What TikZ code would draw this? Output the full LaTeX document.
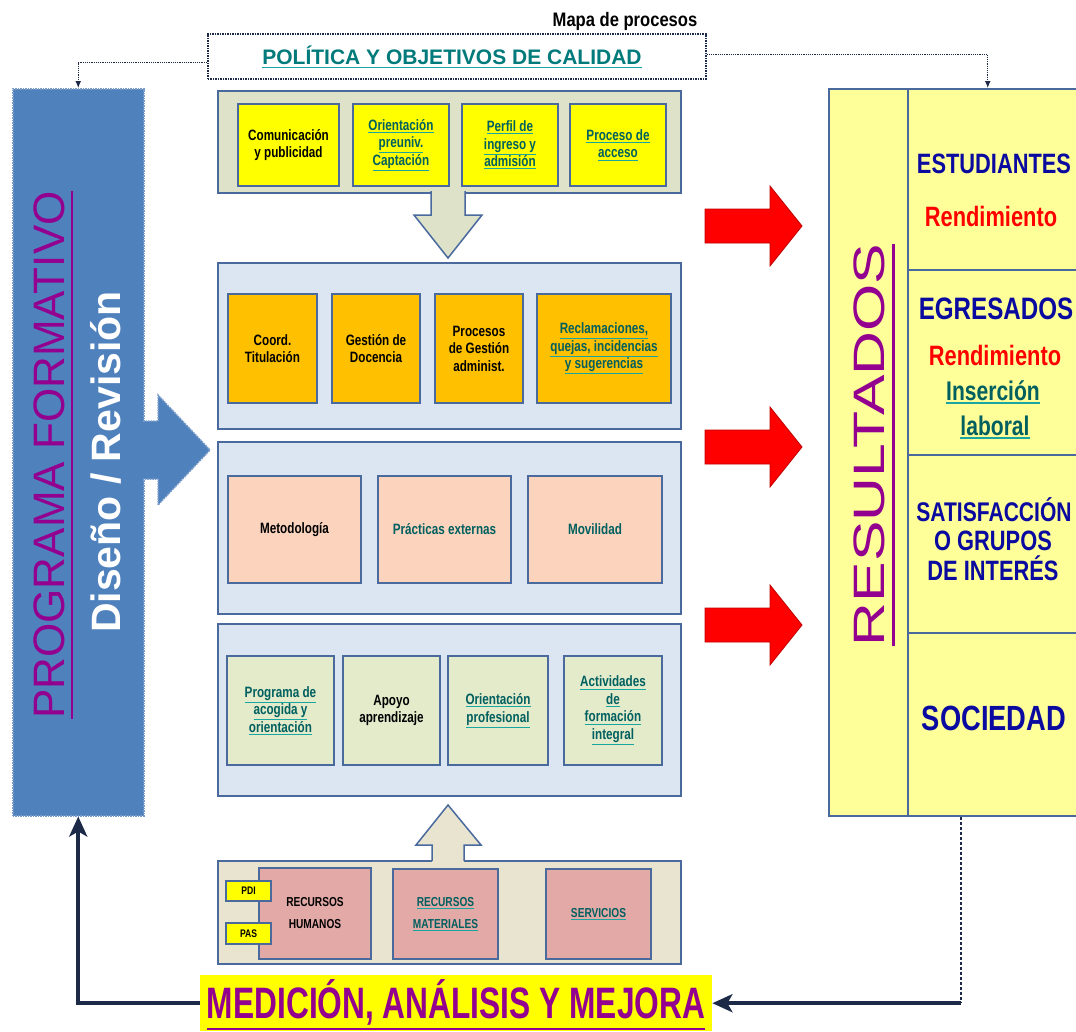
\documentclass[tikz,border=0pt]{standalone}
\usepackage{fontspec}
\setmainfont{Liberation Sans}
\newfontfamily\nar[FakeStretch=0.78]{Liberation Sans}
\newfontfamily\medf[FakeStretch=0.72]{Liberation Sans}
\newfontfamily\ttlf[FakeStretch=0.85]{Liberation Sans}
\usetikzlibrary{arrows.meta}
\definecolor{progblue}{HTML}{4F81BD}
\definecolor{progedge}{HTML}{7A9CCB}
\definecolor{grpb}{HTML}{4A6A9E}
\definecolor{g1fill}{HTML}{DDE2C9}
\definecolor{lblue}{HTML}{DCE6F2}
\definecolor{bfill}{HTML}{E9E4CF}
\definecolor{yel}{HTML}{FFFF00}
\definecolor{orng}{HTML}{FFC000}
\definecolor{peach}{HTML}{FCD3BD}
\definecolor{lgreen}{HTML}{E3EBCB}
\definecolor{pinkb}{HTML}{E2A9A6}
\definecolor{resy}{HTML}{FFFF99}
\definecolor{purp}{HTML}{93008F}
\definecolor{blu}{HTML}{0A0AA0}
\definecolor{lkteal}{HTML}{005F5F}
\definecolor{ulteal}{HTML}{1AA6A0}
\definecolor{polteal}{HTML}{007A7A}
\definecolor{navy}{HTML}{1C2A48}
\definecolor{redarr}{HTML}{FF0000}
\newcommand\myul[4]{\setbox0\hbox{#4}\vtop{\copy0\nointerlineskip\kern#3\hbox{\textcolor{#1}{\rule{\wd0}{#2}}}}}
\newcommand\lk[1]{\myul{ulteal}{0.8pt}{1.5pt}{\textcolor{lkteal}{#1}}}
\begin{document}
\begin{tikzpicture}[x=1pt,y=-1pt,
  grp/.style={draw=grpb,line width=1.6pt,anchor=north west,inner sep=0pt},
  ibox/.style={draw=grpb,line width=2pt,anchor=north west,inner sep=2pt,align=center,font={\nar\bfseries\fontsize{15}{17.5}\selectfont}},
  thinconn/.style={draw=navy,line width=1.2pt,densely dotted,-{Latex[length=7pt,width=6pt]}},
  thickconn/.style={draw=navy,line width=4pt,-{Stealth[length=20pt,width=18pt,inset=5pt]}},
  rtxt/.style={anchor=base,inner sep=0pt},
  blockarrow/.style={draw=grpb,line width=1.5pt,line join=miter}
]
\useasboundingbox (0,0) rectangle (1076,1031);
\clip (0,0) rectangle (1076,1031);
\fill[white] (0,0) rectangle (1076,1031);

% title
\node[rtxt,font={\ttlf\bfseries\fontsize{19.5}{20}\selectfont}] (title) at (625,26) {Mapa de procesos};

% policy box
\node[draw=navy,line width=1.5pt,densely dotted,fill=white,anchor=north west,minimum width=498,minimum height=45,inner sep=0pt] (pol) at (207,33) {};
\node[rtxt,text=polteal,font={\bfseries\fontsize{21}{21}\selectfont}] (poltxt) at (452,64) {\myul{ulteal}{1.5pt}{2.5pt}{POLÍTICA Y OBJETIVOS DE CALIDAD}};

% programa formativo
\node[draw=progedge,fill=progblue,line width=1.5pt,densely dotted,anchor=north west,minimum width=131,minimum height=727,inner sep=0pt] (prog) at (12,88) {};
\fill[progblue] (140,421) -- (158,421) -- (158,395) -- (210,450) -- (158,505) -- (158,479) -- (140,479) -- cycle;
\draw[progedge,line width=1.5pt,densely dotted] (143,421) -- (158,421) -- (158,395) -- (210,450) -- (158,505) -- (158,479) -- (143,479);
\node[rtxt,rotate=90,text=purp,font={\fontsize{44}{44}\selectfont}] (pftxt) at (64,455) {\myul{purp}{2pt}{7pt}{PROGRAMA FORMATIVO}};
\node[rtxt,rotate=90,text=white,font={\bfseries\fontsize{41}{41}\selectfont}] (dstxt) at (120,462) {Diseño / Revisión};

% group 1
\node[grp,fill=g1fill,minimum width=463,minimum height=102] (g1) at (217,90) {};
\fill[g1fill] (431,188) -- (431,215) -- (414,215) -- (448,258) -- (482,215) -- (465,215) -- (465,188) -- cycle;
\draw[blockarrow] (431,191) -- (431,215) -- (414,215) -- (448,258) -- (482,215) -- (465,215) -- (465,191);
\node[ibox,fill=yel,minimum width=101,minimum height=82] (y1) at (237,103) {Comunicación\\y publicidad};
\node[ibox,fill=yel,minimum width=96,minimum height=82] (y2) at (352,103) {\lk{Orientación}\\\lk{preuniv.}\\\lk{Captación}};
\node[ibox,fill=yel,minimum width=96,minimum height=82] (y3) at (461,103) {\lk{Perfil de}\\\lk{ingreso y}\\\lk{admisión}};
\node[ibox,fill=yel,minimum width=96,minimum height=82] (y4) at (569,103) {\lk{Proceso de}\\\lk{acceso}};

% group 2
\node[grp,fill=lblue,minimum width=463,minimum height=166] (g2) at (217,262) {};
\node[ibox,fill=orng,minimum width=89,minimum height=109] (o1) at (227,293) {Coord.\\Titulación};
\node[ibox,fill=orng,minimum width=88,minimum height=109] (o2) at (331,293) {Gestión de\\Docencia};
\node[ibox,fill=orng,minimum width=88,minimum height=109] (o3) at (434,293) {Procesos\\de Gestión\\administ.};
\node[ibox,fill=orng,minimum width=134,minimum height=109] (o4) at (536,293) {\lk{Reclamaciones,}\\\lk{quejas, incidencias}\\\lk{y sugerencias}};

% group 3
\node[grp,fill=lblue,minimum width=463,minimum height=172] (g3) at (217,441) {};
\node[ibox,fill=peach,minimum width=133,minimum height=107] (p1) at (227,475) {Metodología};
\node[ibox,fill=peach,minimum width=133,minimum height=107,text=lkteal] (p2) at (377,475) {Prácticas externas};
\node[ibox,fill=peach,minimum width=134,minimum height=107,text=lkteal] (p3) at (527,475) {Movilidad};

% group 4
\node[grp,fill=lblue,minimum width=463,minimum height=172] (g4) at (217,623) {};
\node[ibox,fill=lgreen,minimum width=107,minimum height=109] (q1) at (226,655) {\lk{Programa de}\\\lk{acogida y}\\\lk{orientación}};
\node[ibox,fill=lgreen,minimum width=97,minimum height=109] (q2) at (342,655) {Apoyo\\aprendizaje};
\node[ibox,fill=lgreen,minimum width=100,minimum height=109] (q3) at (447,655) {\lk{Orientación}\\\lk{profesional}};
\node[ibox,fill=lgreen,minimum width=98,minimum height=109] (q4) at (563,655) {\lk{Actividades}\\\lk{de}\\\lk{formación}\\\lk{integral}};

% group 5 (resources)
\node[grp,fill=bfill,minimum width=463,minimum height=103] (g5) at (217,860) {};
\fill[bfill] (432,864) -- (432,845) -- (416,845) -- (448,805) -- (481,845) -- (464,845) -- (464,864) -- cycle;
\draw[blockarrow] (432,861) -- (432,845) -- (416,845) -- (448,805) -- (481,845) -- (464,845) -- (464,861);
\node[ibox,fill=pinkb,minimum width=112,minimum height=91,font={\nar\bfseries\fontsize{13}{22}\selectfont}] (rh) at (258,867) {RECURSOS\\HUMANOS};
\node[ibox,fill=pinkb,minimum width=105,minimum height=90,font={\nar\bfseries\fontsize{13}{22}\selectfont}] (rm) at (392,868) {\lk{RECURSOS}\\\lk{MATERIALES}};
\node[ibox,fill=pinkb,minimum width=105,minimum height=90,font={\nar\bfseries\fontsize{13}{22}\selectfont}] (sv) at (545,868) {\lk{SERVICIOS}};
\node[ibox,fill=yel,minimum width=45,minimum height=20,font={\nar\bfseries\fontsize{11}{12}\selectfont}] (pdi) at (225,880) {PDI};
\node[ibox,fill=yel,minimum width=45,minimum height=21,font={\nar\bfseries\fontsize{11}{12}\selectfont}] (pas) at (225,922) {PAS};

% red arrows
\foreach \c in {226,447,625}{
  \draw[fill=redarr,draw=redarr!75!black,line width=0.8pt,line join=miter] (705,{\c-17}) -- (770,{\c-17}) -- (770,{\c-40}) -- (802,\c) -- (770,{\c+40}) -- (770,{\c+17}) -- (705,{\c+17}) -- cycle;
}

% resultados
\node[draw=grpb,fill=resy,line width=1.5pt,anchor=north west,minimum width=254,minimum height=727,inner sep=0pt] (res) at (828,88) {};
\draw[grpb,line width=1.5pt] (908,88) -- (908,815);
\draw[grpb,line width=1.5pt] (908,270) -- (1080,270);
\draw[grpb,line width=1.5pt] (908,455) -- (1080,455);
\draw[grpb,line width=1.5pt] (908,633) -- (1080,633);
\node[rtxt,rotate=90,text=purp,font={\fontsize{44}{44}\selectfont\addfontfeature{FakeStretch=1.38}}] (restxt) at (884,445) {\myul{purp}{2.5pt}{8pt}{RESULTADOS}};
\node[rtxt,text=blu,font={\nar\bfseries\fontsize{28}{28}\selectfont}] (est) at (994,173) {ESTUDIANTES};
\node[rtxt,text=redarr,font={\nar\bfseries\fontsize{28}{28}\selectfont}] (rend1) at (991,226) {Rendimiento};
\node[rtxt,text=blu,font={\nar\bfseries\fontsize{31}{31}\selectfont}] (egr) at (996,319) {EGRESADOS};
\node[rtxt,text=redarr,font={\nar\bfseries\fontsize{28}{28}\selectfont}] (rend2) at (995,365) {Rendimiento};
\node[rtxt,font={\nar\bfseries\fontsize{27}{27}\selectfont}] (ins) at (993,400) {\myul{ulteal}{1.5pt}{2pt}{\textcolor{lkteal}{Inserción}}};
\node[rtxt,font={\nar\bfseries\fontsize{27}{27}\selectfont}] (lab) at (995,435) {\myul{ulteal}{1.5pt}{2pt}{\textcolor{lkteal}{laboral}}};
\node[rtxt,text=blu,font={\nar\bfseries\fontsize{27}{27}\selectfont}] (sat1) at (994,521) {SATISFACCIÓN};
\node[rtxt,text=blu,font={\nar\bfseries\fontsize{28}{28}\selectfont}] (sat2) at (993,550) {O GRUPOS};
\node[rtxt,text=blu,font={\nar\bfseries\fontsize{28}{28}\selectfont}] (sat3) at (993,580) {DE INTERÉS};
\node[rtxt,text=blu,font={\nar\bfseries\fontsize{35}{35}\selectfont}] (soc) at (994,730) {SOCIEDAD};

% medicion box
\node[fill=yel,anchor=north west,minimum width=512,minimum height=56,inner sep=0pt] (med) at (200,975) {};
\node[rtxt,text=purp,font={\medf\bfseries\fontsize{44}{44}\selectfont}] (medtxt) at (456,1018) {\myul{purp}{2.5pt}{3pt}{MEDICIÓN, ANÁLISIS Y MEJORA}};

% connectors
\draw[thinconn] ([yshift=-6pt]pol.west) -| (prog.north);
\draw[thinconn] ([yshift=2pt]pol.east) -| ([xshift=32pt]res.north);
\draw[thickconn] (med.west) -| (prog.south);
\draw[navy,line width=2.5pt,densely dashed] ([xshift=5pt]res.south) -- ([xshift=5pt]res.south |- med.east);
\draw[thickconn] ([xshift=5pt]res.south |- med.east) -- (med.east);
\end{tikzpicture}
\end{document}
